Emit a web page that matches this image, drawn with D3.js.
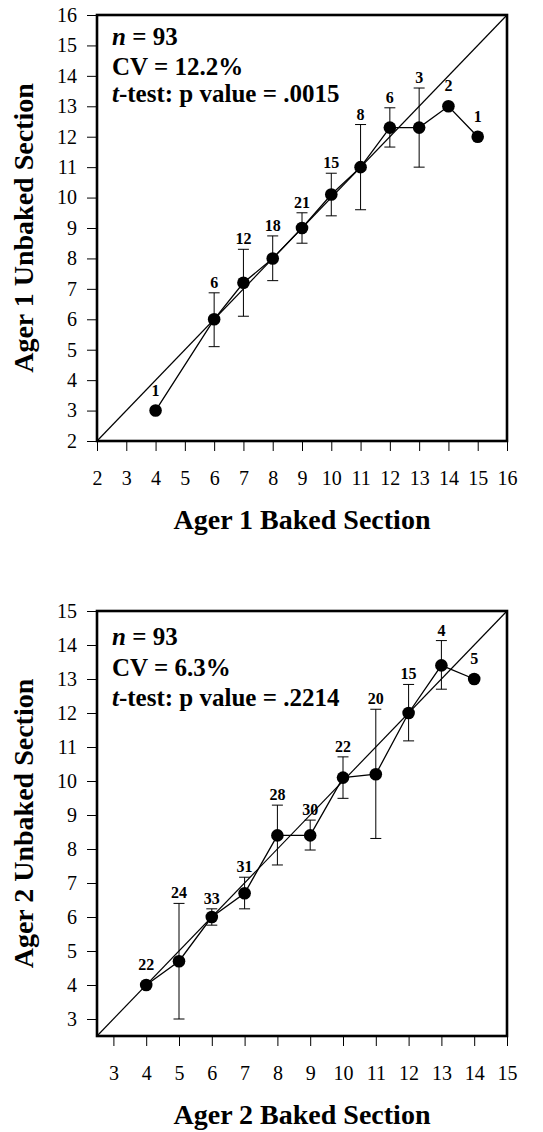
<!DOCTYPE html>
<html>
<head>
<meta charset="utf-8">
<script src="https://cdn.jsdelivr.net/npm/d3@7"></script>
<style>
  body { margin: 0; background: #fff; }
  svg { display: block; }
</style>
</head>
<body>
<svg id="chart" width="543" height="1132" font-family="Liberation Serif"></svg>
<script>
// Ager 1 (top panel)
var ager1X = [4, 6, 7, 8, 9, 10, 11, 12, 13, 14, 15];
var ager1Y = [3, 6, 7.2, 8, 9, 10.1, 11, 12.3, 12.3, 13, 12];
var ager1Hi = [null, 6.87, 8.3, 8.74, 9.5, 10.8, 12.4, 12.95, 13.6, null, null];
var ager1Lo = [null, 5.1, 6.1, 7.27, 8.5, 9.4, 9.6, 11.66, 11.0, null, null];
var ager1N = [1, 6, 12, 18, 21, 15, 8, 6, 3, 2, 1];
var ager1Ticks = [2, 3, 4, 5, 6, 7, 8, 9, 10, 11, 12, 13, 14, 15, 16];
var ager1Stats = ["93", "12.2%", ".0015"];

// Ager 2 (bottom panel)
var ager2X = [4, 5, 6, 7, 8, 9, 10, 11, 12, 13, 14];
var ager2Y = [4, 4.7, 6.0, 6.7, 8.4, 8.4, 10.1, 10.2, 12.0, 13.4, 13.0];
var ager2Hi = [null, 6.4, 6.24, 7.17, 9.29, 8.85, 10.71, 12.11, 12.84, 14.13, null];
var ager2Lo = [null, 3.0, 5.76, 6.24, 7.53, 7.97, 9.49, 8.31, 11.18, 12.7, null];
var ager2N = [22, 24, 33, 31, 28, 30, 22, 20, 15, 4, 5];
var ager2Ticks = [3, 4, 5, 6, 7, 8, 9, 10, 11, 12, 13, 14, 15];
var ager2Stats = ["93", "6.3%", ".2214"];

var FONT = "Liberation Serif";
var svg = d3.select("#chart");

function panel(opts) {
  var left = 97, right = 507;
  var x = d3.scaleLinear().domain(opts.domain).range([left, right]);
  var y = d3.scaleLinear().domain(opts.domain).range([opts.bottom, opts.top]);
  var g = svg.append("g").attr("font-family", FONT);

  var pts = opts.xs.map(function(d, i) {
    return {x: d, y: opts.ys[i], hi: opts.hi[i], lo: opts.lo[i], n: opts.n[i]};
  });

  // axes
  var xAxis = g.append("g")
    .attr("transform", "translate(0," + opts.bottom + ")")
    .call(d3.axisBottom(x).tickValues(opts.ticks).tickSize(10).tickFormat(d3.format("d")));
  var yAxis = g.append("g")
    .attr("transform", "translate(" + left + ",0)")
    .call(d3.axisLeft(y).tickValues(opts.ticks).tickSize(10).tickFormat(d3.format("d")));
  [xAxis, yAxis].forEach(function(a) {
    a.attr("font-family", FONT).attr("font-size", 20);
    a.select(".domain").remove();
    a.selectAll("line").attr("stroke", "#000").attr("stroke-width", 1);
    a.selectAll("text").attr("fill", "#000").attr("font-family", FONT).attr("font-size", 20);
  });
  xAxis.selectAll("text").attr("y", 44).attr("dy", null);
  yAxis.selectAll("text").attr("x", -20).attr("dy", "0.32em");

  // identity line
  var d0 = opts.domain;
  g.append("line")
    .attr("x1", x(d0[0])).attr("y1", y(d0[0]))
    .attr("x2", x(d0[1])).attr("y2", y(d0[1]))
    .attr("stroke", "#000").attr("stroke-width", 1.2);

  // error bars
  var bars = pts.filter(function(d) { return d.hi != null; });
  var eb = g.selectAll(".eb").data(bars).enter().append("g");
  eb.append("line")
    .attr("x1", function(d) { return x(d.x); }).attr("x2", function(d) { return x(d.x); })
    .attr("y1", function(d) { return y(d.hi); }).attr("y2", function(d) { return y(d.lo); })
    .attr("stroke", "#000").attr("stroke-width", 1);
  ["hi", "lo"].forEach(function(k) {
    eb.append("line")
      .attr("x1", function(d) { return x(d.x) - 5.5; }).attr("x2", function(d) { return x(d.x) + 5.5; })
      .attr("y1", function(d) { return y(d[k]); }).attr("y2", function(d) { return y(d[k]); })
      .attr("stroke", "#000").attr("stroke-width", 1);
  });

  // connecting line
  g.append("path")
    .attr("d", d3.line().x(function(d) { return x(d.x); }).y(function(d) { return y(d.y); })(pts))
    .attr("fill", "none").attr("stroke", "#000").attr("stroke-width", 1.3);

  g.selectAll("circle").data(pts).enter().append("circle")
    .attr("cx", function(d) { return x(d.x); })
    .attr("cy", function(d) { return y(d.y); })
    .attr("r", 6.3).attr("fill", "#000");

  // sample counts
  g.selectAll(".cnt").data(pts).enter().append("text")
    .attr("x", function(d) { return x(d.x); })
    .attr("y", function(d) { return d.hi != null ? y(d.hi) - 5 : y(d.y) - 15; })
    .attr("text-anchor", "middle")
    .attr("font-family", FONT).attr("font-size", 16).attr("font-weight", "bold")
    .text(function(d) { return d.n; });

  // frame
  g.append("rect")
    .attr("x", left).attr("y", opts.top)
    .attr("width", right - left).attr("height", opts.bottom - opts.top)
    .attr("fill", "none").attr("stroke", "#000").attr("stroke-width", 2.6);

  // stats block
  var st = g.append("g").attr("font-family", FONT).attr("font-size", 25).attr("font-weight", "bold");
  var l1 = st.append("text").attr("x", 112).attr("y", opts.top + opts.statY[0]);
  l1.append("tspan").attr("font-style", "italic").text("n");
  l1.append("tspan").text(" = " + opts.stats[0]);
  st.append("text").attr("x", 112).attr("y", opts.top + opts.statY[1]).text("CV = " + opts.stats[1]);
  var l3 = st.append("text").attr("x", 112).attr("y", opts.top + opts.statY[2]);
  l3.append("tspan").attr("font-style", "italic").text("t");
  l3.append("tspan").text("-test: p value = " + opts.stats[2]);

  // titles
  g.append("text")
    .attr("x", (left + right) / 2).attr("y", opts.bottom + 88)
    .attr("text-anchor", "middle")
    .attr("font-family", FONT).attr("font-size", 28).attr("font-weight", "bold")
    .text(opts.xTitle);
  g.append("text")
    .attr("transform", "translate(33," + (opts.top + opts.bottom) / 2 + ") rotate(-90)")
    .attr("text-anchor", "middle")
    .attr("font-family", FONT).attr("font-size", 28).attr("font-weight", "bold")
    .text(opts.yTitle);
}

panel({
  domain: [2, 16], top: 15, bottom: 441,
  xs: ager1X, ys: ager1Y, hi: ager1Hi, lo: ager1Lo, n: ager1N,
  ticks: ager1Ticks, stats: ager1Stats, statY: [30, 60, 87],
  xTitle: "Ager 1 Baked Section", yTitle: "Ager 1 Unbaked Section"
});

panel({
  domain: [2.5, 15], top: 611, bottom: 1036,
  xs: ager2X, ys: ager2Y, hi: ager2Hi, lo: ager2Lo, n: ager2N,
  ticks: ager2Ticks, stats: ager2Stats, statY: [34, 65, 95],
  xTitle: "Ager 2 Baked Section", yTitle: "Ager 2 Unbaked Section"
});
</script>
</body>
</html>
